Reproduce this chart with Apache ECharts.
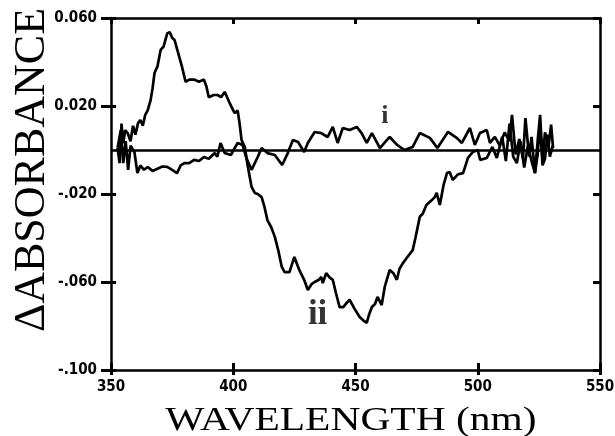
<!DOCTYPE html>
<html>
<head>
<meta charset="utf-8">
<script src="https://cdn.jsdelivr.net/npm/echarts@6/dist/echarts.min.js"></script>
<style>
html,body{margin:0;padding:0;background:#fff;}
#c{width:615px;height:436px;}
</style>
</head>
<body>
<div id="c"></div>
<script>
// ---- data ----
const xTicks = [350, 400, 450, 500, 550];
const yTickLabels = {"0.06": "0.060", "0.02": "0.020", "-0.02": "-.020", "-0.06": "-.060", "-0.1": "-.100"};
const baselineValue = 0.0013;
const xTitle = 'WAVELENGTH (nm)';
const yTitle = 'ΔABSORBANCE';

const seriesI = [
[352.7,0.001],[354,0.009],[355,-0.006],[356,0.004],[357,-0.009],[358,0.002],[359.6,-0.001],[360.8,-0.0105],
[362,-0.007],[363.5,-0.009],[365,-0.0077],[367,-0.0095],[369,-0.0085],[371,-0.0075],[373,-0.0077],[375,-0.009],
[377,-0.0105],[378.5,-0.007],[380,-0.006],[382,-0.006],[384,-0.0045],[386,-0.005],[388,-0.0032],[390,-0.004],
[392.4,-0.0014],[393.5,-0.003],[394.8,0.0032],[396.5,-0.0014],[399,-0.0023],[400.6,0.0009],[401.8,0.0032],
[403.8,0.0023],[405.5,-0.004],[407.5,-0.009],[410,-0.0032],[411.6,0.0009],[414,-0.0014],[417,-0.0023],
[420,-0.0068],[422.3,-0.0014],[424.4,0.0045],[426.5,0.0036],[429,-0.0009],[430.5,0.0032],[433.3,0.0082],
[436,0.0077],[438.6,0.0059],[440.7,0.0105],[442.7,0.0032],[444.8,0.01],[447.6,0.0091],[450.5,0.0105],
[452.5,0.0077],[454.6,0.0032],[456.7,0.0077],[460,0.0009],[462.8,0.0045],[464,0.0059],[467,0.0023],[470,0.0],
[473.4,0.0014],[476.3,0.0077],[480.4,0.0055],[483.5,0.0009],[487.8,0.0082],[491.4,0.0055],[493.5,0.0032],
[496.8,0.010],[498.8,0.0023],[500.9,0.0077],[503.7,0.0091],[505,0.0032],[507,0.006],[509,0.002],[511,0.008],
[513,0.004],[514,0.016],[515.5,-0.002],[517,0.005],[518.5,-0.004],[519.5,0.0145],[521,-0.003],[522,0.006],
[523.4,-0.0105],[524.5,0.004],[525.5,0.016],[526.5,-0.005],[527.5,0.008],[529,0.002],[530,0.0115],[530.8,0.001]
];

const seriesII = [
[352.7,0.001],[353.5,-0.006],[354.3,0.012],[355,0.003],[355.8,0.009],[356.8,0.0077],[358,0.004],[359,0.011],
[360,0.007],[361,0.012],[362,0.0136],[363,0.011],[364,0.016],[365,0.018],[366.2,0.0227],[367,0.028],[367.8,0.035],
[369,0.038],[370.3,0.0455],[371.5,0.047],[373,0.053],[374,0.0536],[375,0.051],[376,0.050],[377,0.046],[378,0.042],
[379,0.038],[380.5,0.031],[382,0.032],[384,0.032],[386,0.031],[388,0.032],[389,0.029],[390,0.024],[392,0.025],
[393.6,0.025],[395,0.024],[396.5,0.0264],[397.5,0.024],[398.5,0.0214],[400,0.018],[400.6,0.0168],[401.8,0.018],
[402.6,0.012],[403.4,0.0045],[404.7,0.0014],[406,-0.0077],[407.5,-0.0168],[408.8,-0.0195],[410,-0.020],
[411.6,-0.0214],[412.8,-0.026],[414,-0.032],[415.5,-0.035],[417,-0.0395],[418.5,-0.046],[419.8,-0.053],
[421,-0.0555],[423,-0.0555],[424,-0.052],[425,-0.0486],[427,-0.0545],[429,-0.059],[430.5,-0.0636],[432,-0.061],
[433.3,-0.060],[435,-0.059],[436,-0.0577],[436.6,-0.0605],[438,-0.056],[439.5,-0.058],[440.7,-0.059],[442,-0.065],
[443.5,-0.0714],[445,-0.0714],[446,-0.070],[447.6,-0.068],[449.5,-0.072],[451.7,-0.0759],[453,-0.0773],
[454.6,-0.0786],[455.5,-0.075],[456.7,-0.0714],[458,-0.070],[459,-0.0668],[460.7,-0.0705],[462,-0.062],
[464,-0.0545],[465.5,-0.056],[466.9,-0.059],[468,-0.054],[469.4,-0.0514],[471,-0.049],[473.4,-0.0455],
[474.5,-0.040],[476.3,-0.0303],[477.5,-0.029],[479,-0.025],[481,-0.023],[482.4,-0.0214],[483.2,-0.0195],
[484.5,-0.025],[486,-0.016],[487.4,-0.0105],[488.5,-0.010],[489.8,-0.0136],[492,-0.011],[494,-0.0105],
[496,-0.0036],[498,-0.0009],[500,0.0],[501,-0.0045],[503.7,-0.0036],[506,0.0014],[507.8,-0.0036],[510,0.006],
[511.5,-0.005],[513,0.012],[514.5,-0.003],[516,-0.006],[517.5,0.004],[519,-0.008],[520.5,0.002],[522,-0.005],
[523.4,-0.0105],[524.5,-0.002],[525.5,0.012],[526.5,-0.007],[527.5,-0.004],[528.5,0.007],[529.5,-0.003],[530.7,0.002]
];

const curveLabels = [
  {text: 'i', x: 462, y: 0.0155, size: 26},
  {text: 'ii', x: 434.5, y: -0.075, size: 35}
];

// ---- chart ----
const chart = echarts.init(document.getElementById('c'), null, {renderer: 'canvas'});
const black = '#000';
const tickFont = {color: black, fontWeight: 'bold', fontSize: 15,
  fontFamily: "'Liberation Sans Narrow', 'DejaVu Sans Condensed', 'Liberation Sans', sans-serif"};
const serif = "'Liberation Serif', 'DejaVu Serif', serif";

const xBase = {type: 'value', min: 350, max: 550, interval: 50, gridIndex: 0, splitLine: {show: false}};
const yBase = {type: 'value', min: -0.1, max: 0.06, interval: 0.04, gridIndex: 0, splitLine: {show: false}};
const tickStyle = {color: black, width: 3};

chart.setOption({
  animation: false,
  backgroundColor: '#fff',
  grid: {left: 111, top: 18, width: 489, height: 352, containLabel: false, outerBoundsMode: 'none'},
  xAxis: [
    Object.assign({}, xBase, {
      position: 'bottom',
      axisLine: {show: true, onZero: false, lineStyle: {color: black, width: 2.5}},
      axisTick: {show: true, inside: false, length: 5, lineStyle: tickStyle},
      axisLabel: Object.assign({margin: 10, showMinLabel: true, showMaxLabel: true,
        formatter: v => xTicks.indexOf(v) >= 0 ? String(v) : ''}, tickFont)
    }),
    Object.assign({}, xBase, {
      position: 'bottom',
      axisLine: {show: false, onZero: false},
      axisTick: {show: true, inside: true, length: 7, lineStyle: tickStyle},
      axisLabel: {show: false}
    }),
    Object.assign({}, xBase, {
      position: 'top',
      axisLine: {show: true, onZero: false, lineStyle: {color: black, width: 2.5}},
      axisTick: {show: true, inside: true, length: 6, lineStyle: tickStyle},
      axisLabel: {show: false}
    })
  ],
  yAxis: [
    Object.assign({}, yBase, {
      position: 'left',
      axisLine: {show: true, onZero: false, lineStyle: {color: black, width: 2.5}},
      axisTick: {show: true, inside: false, length: 10, lineStyle: tickStyle},
      axisLabel: Object.assign({margin: 14, showMinLabel: true, showMaxLabel: true,
        formatter: v => yTickLabels[String(Math.round(v * 1000) / 1000)] || ''}, tickFont)
    }),
    Object.assign({}, yBase, {
      position: 'left',
      axisLine: {show: false, onZero: false},
      axisTick: {show: true, inside: true, length: 5, lineStyle: tickStyle},
      axisLabel: {show: false}
    }),
    Object.assign({}, yBase, {
      position: 'right',
      axisLine: {show: true, onZero: false, lineStyle: {color: black, width: 2.5}},
      axisTick: {show: true, inside: true, length: 7, lineStyle: tickStyle},
      axisLabel: {show: false}
    })
  ],
  graphic: [
    {type: 'text', x: 351, y: 421, scaleX: 1.22, silent: true,
      style: {text: xTitle, fontFamily: serif, fontSize: 34, fill: black, align: 'center', verticalAlign: 'middle'}},
    {type: 'text', x: 32, y: 170, rotation: Math.PI / 2, silent: true,
      style: {text: yTitle, fontFamily: serif, fontSize: 44, fill: black, align: 'center', verticalAlign: 'middle'}}
  ],
  series: [
    {
      name: 'i', type: 'line', data: seriesI, xAxisIndex: 0, yAxisIndex: 0,
      showSymbol: false, symbol: 'none', lineStyle: {color: black, width: 2.7}, z: 3,
      markLine: {
        silent: true, symbol: ['none', 'none'], label: {show: false},
        lineStyle: {color: black, width: 2.5, type: 'solid'},
        data: [{yAxis: baselineValue}]
      }
    },
    {
      name: 'ii', type: 'line', data: seriesII, xAxisIndex: 0, yAxisIndex: 0,
      showSymbol: false, symbol: 'none', lineStyle: {color: black, width: 2.7}, z: 3
    },
    {
      name: 'labels', type: 'scatter', xAxisIndex: 0, yAxisIndex: 0,
      symbolSize: 0, silent: true,
      data: curveLabels.map(l => ({value: [l.x, l.y],
        label: {show: true, position: 'inside', formatter: l.text, color: black,
          fontFamily: serif, fontSize: l.size, fontWeight: 'bold'}}))
    }
  ]
});
</script>
</body>
</html>
